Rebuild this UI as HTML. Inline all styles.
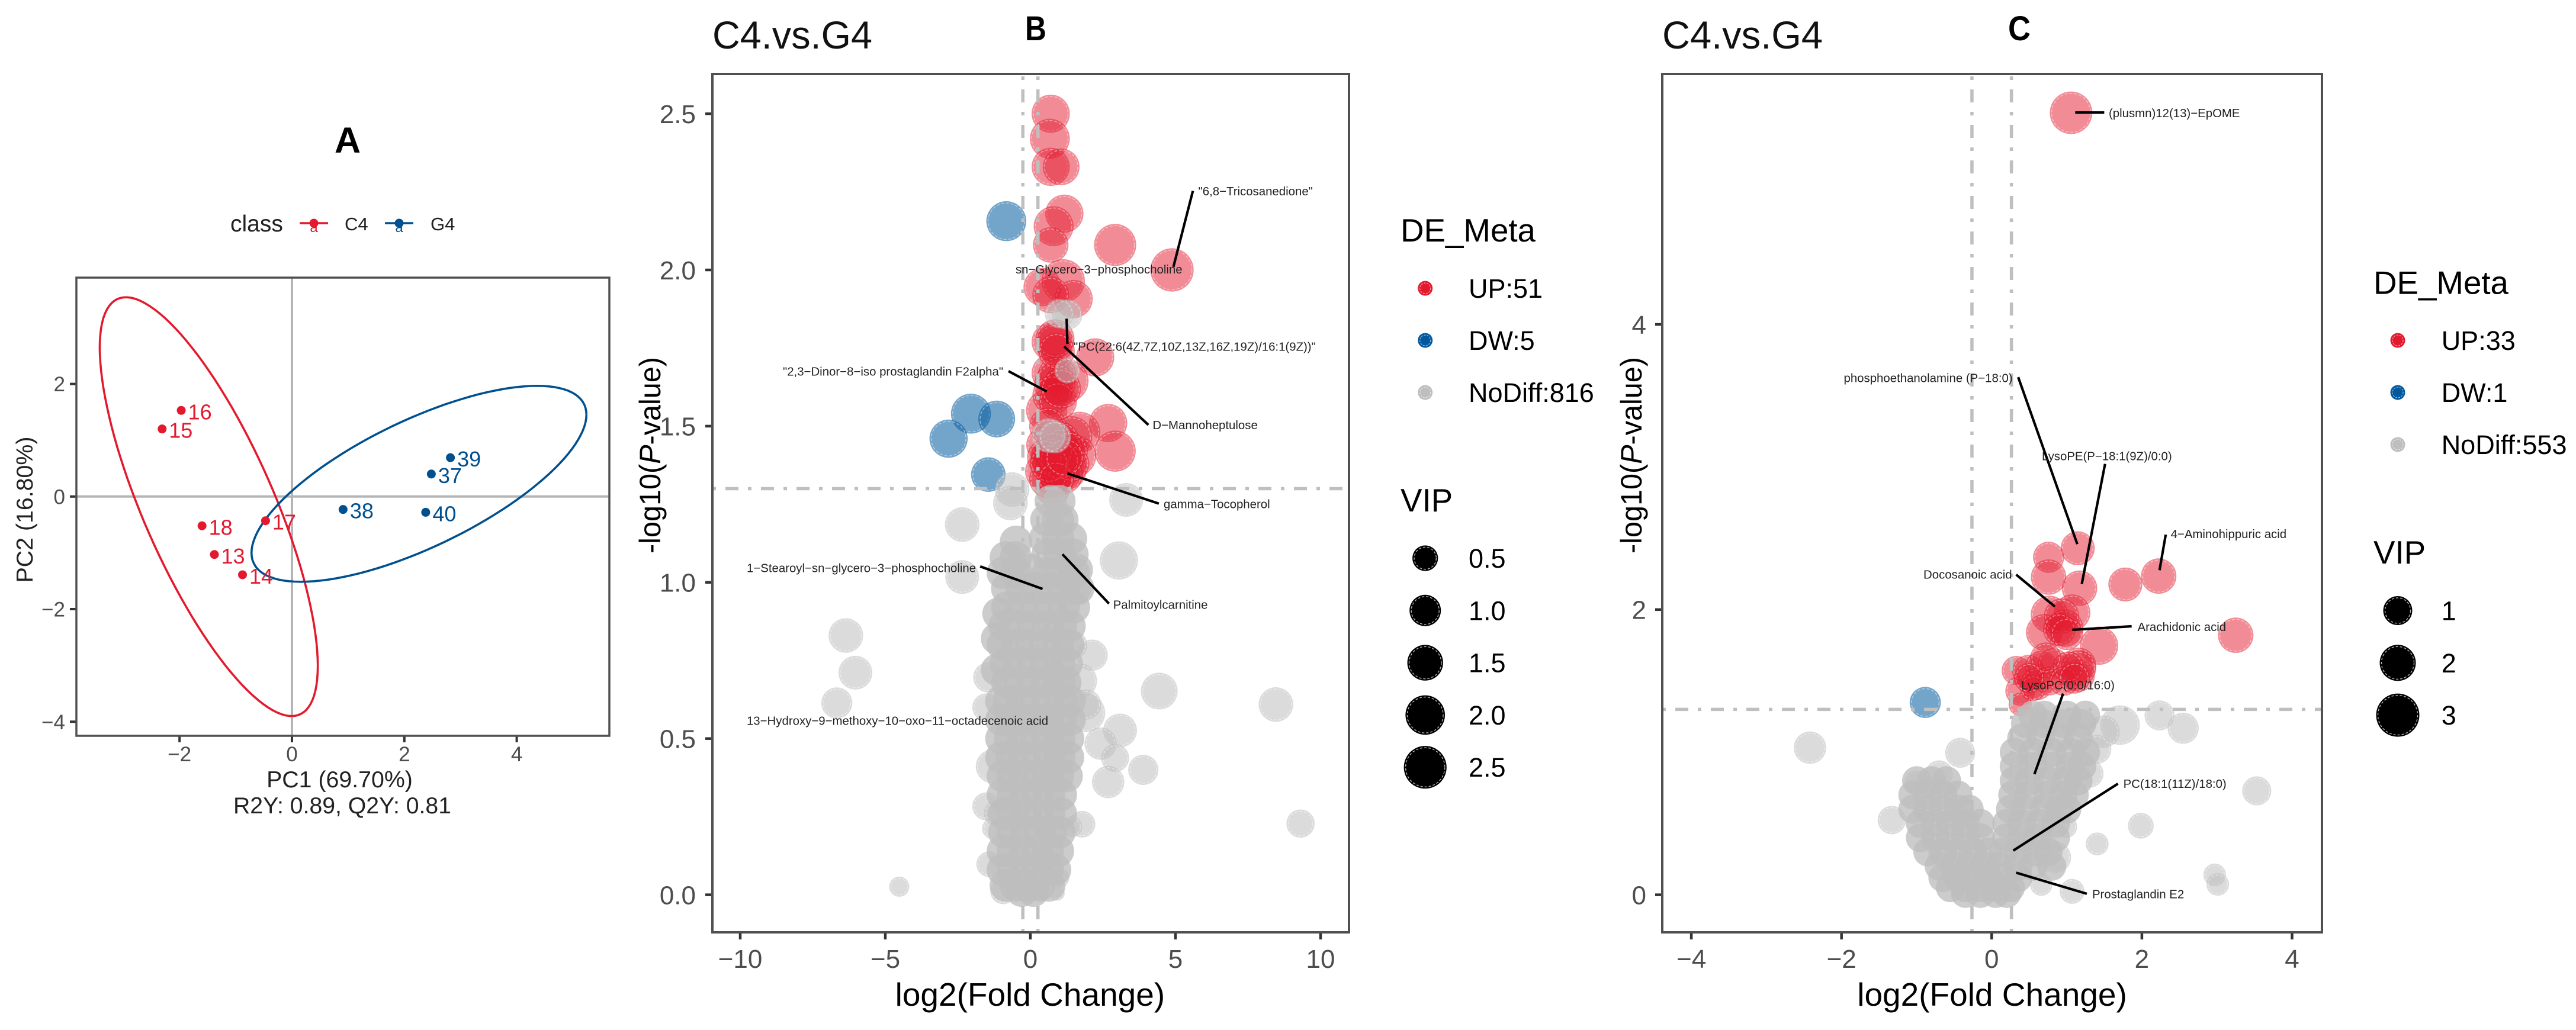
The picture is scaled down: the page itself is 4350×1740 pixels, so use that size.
<!DOCTYPE html>
<html lang="en">
<head>
<meta charset="utf-8">
<title>PCA and volcano plots C4.vs.G4</title>
<style>
html,body{margin:0;padding:0;background:#fff;}
svg{display:block;font-family:"Liberation Sans",sans-serif;}
</style>
</head>
<body>
<svg id="figure" width="4350" height="1740" viewBox="0 0 4350 1740" xmlns="http://www.w3.org/2000/svg">
<rect width="4350" height="1740" fill="#fff"/>
</svg>
<script>
// ---------- Panel A data ----------
const pcaSamples = ['16','15','18','13','14','17','38','40','37','39'];
const pcaPc1 = [-1.97,-2.31,-1.60,-1.38,-0.88,-0.47,0.91,2.38,2.48,2.82];
const pcaPc2 = [1.53,1.20,-0.52,-1.03,-1.39,-0.43,-0.23,-0.28,0.40,0.69];
const pcaClass = ['C4','C4','C4','C4','C4','C4','G4','G4','G4','G4'];
const pcaEllipseClass = ['C4','G4'];
const pcaEllipseCentreX = [-1.48,2.26];
const pcaEllipseCentreY = [-0.18,0.226];
const pcaEllipseHalfWidth = [1.94,2.98];
const pcaEllipseHalfHeight = [3.72,1.74];
const pcaEllipseCorr = [-0.76,0.705];
const pcaXTicks = [-2,0,2,4];
const pcaYTicks = [-4,-2,0,2];

// ---------- Panel B data: [log2FC, -log10P, VIP] ----------
const bXTicks = [-10,-5,0,5,10];
const bYTicks = [0,0.5,1,1.5,2,2.5];
const bThresholdP = 1.3;
const bThresholdFc = 0.26;
const bLegendLabels = ['UP:51','DW:5','NoDiff:816'];
const bVipLegend = [0.5,1,1.5,2,2.5];
const bUp = [
[.70,2.50,1.82],[.67,2.42,2.07],[.70,2.33,1.82],[1.06,2.33,1.63],[1.17,2.18,1.82],[.80,2.14,2.07],[.70,2.08,1.47],
[2.92,2.08,2.4],[4.88,2.00,2.6],[.42,1.945,1.82],[1.13,1.965,2.6],[1.49,1.907,1.82],[.70,1.92,1.63],[.70,1.77,1.82],
[.84,1.765,1.82],[2.23,1.72,1.82],[.70,1.67,1.82],[1.27,1.645,2.48],[.92,1.66,1.94],[.84,1.635,2.26],[.56,1.55,2.26],
[2.68,1.51,1.82],[2.92,1.42,2.26],[1.70,1.48,2.26],[1.42,1.466,2.26],[.49,1.44,1.63],[.99,1.45,2.26],[1.56,1.405,2.26],
[1.27,1.36,1.94],[.49,1.355,1.94],[.84,1.37,1.94],[.77,1.30,1.35],[1.13,1.345,1.94],[.85,1.78,1.9],[.9,1.74,1.6],
[.75,1.6,2.0],[.95,1.58,1.8],[.6,1.5,1.7],[1.1,1.43,2.0],[1.3,1.42,2.0],[.7,1.4,2.0],[.95,1.35,1.9],[.6,1.33,1.7],
[1.4,1.38,1.6],[.8,1.42,1.9],[1.0,1.39,2.0],[.5,1.4,1.5],[.65,1.38,1.9],[.88,1.33,1.5],[1.18,1.40,1.9],[1.05,1.62,2.1]
];
const bDown = [[-.83,2.156,2.07],[-2.05,1.54,2.07],[-1.16,1.523,1.63],[-2.82,1.46,1.82],[-1.45,1.345,1.35]];
const bNoDiffOutliers = [
[1.27,1.857,.9],[1.0,1.86,.8],[1.27,1.678,.5],[.63,1.47,1.35],[.84,1.465,1.1],[-.63,1.297,1.35],[-.69,1.254,1.35],
[3.3,1.264,1.26],[-2.35,1.185,1.35],[3.05,1.07,1.82],[-2.35,1.017,1.26],[-6.36,.83,1.35],[-6.03,.711,1.26],[-6.67,.614,.97],
[2.13,.767,.97],[4.44,.652,1.63],[8.46,.609,1.35],[9.31,.228,.7],[-4.52,.026,.18],[3.09,.526,1.26],[2.42,.484,1.1],
[2.92,.438,.68],[3.89,.40,.88],[2.68,.361,1.1],[1.78,.226,.57],[1.42,.218,.23],[1.92,.582,1.82],[1.70,.685,1.35],
[1.92,.609,.88],[.93,.005,.02],[.99,.054,.18],[-1.3,.411,1.26],[-1.52,.283,.68],[-1.16,.261,.5],[-1.3,.212,.23],
[-1.42,.098,.5],[-.94,.011,.5],[-1.45,.696,.88],[-1.52,.6,.68],[1.45,.80,.8]
];
const bNoDiffCore = [
[.7,1.26,1.1],[1.0,1.26,1.1],
[.55,1.2,1.1],[.95,1.2,1.1],[1.1,1.2,1.1],
[.5,1.14,1.1],[.95,1.14,1.1],[1.4,1.14,1.1],[-.5,1.13,1.1],
[-.85,1.08,1.1],[-.5,1.08,1.1],[.6,1.09,1.1],[1.0,1.09,1.1],[1.45,1.09,1.1],
[-.95,1.03,1.1],[-.5,1.03,1.1],[0,1.04,1.1],[.6,1.03,1.1],[1.05,1.03,1.1],[1.5,1.03,1.1],
[-.8,.98,1.1],[-.3,.98,1.1],[.2,.98,1.1],[.7,.98,1.1],[1.15,.98,1.1],[1.55,.98,1.1],
[-.8,.92,1.1],[-.3,.92,1.1],[.2,.92,1.1],[.7,.92,1.1],[1.15,.92,1.1],[1.5,.92,1.1],
[-.9,.86,1.1],[-.4,.86,1.1],[.1,.86,1.1],[.6,.86,1.1],[1.05,.86,1.1],[1.35,.86,1.1],
[-.95,.80,1.1],[-.45,.80,1.1],[.05,.80,1.1],[.5,.80,1.1],[.95,.80,1.1],[1.3,.80,1.1],
[-.85,.74,1.1],[-.4,.74,1.1],[.1,.74,1.1],[.55,.74,1.1],[1.0,.74,1.1],[1.25,.74,1.1],
[-.8,.68,1.1],[-.35,.68,1.1],[.1,.68,1.1],[.55,.68,1.1],[1.0,.68,1.1],[1.2,.68,1.1],
[-.75,.62,1.1],[-.3,.62,1.1],[.15,.62,1.1],[.6,.62,1.1],[1.05,.62,1.1],
[-.7,.56,1.1],[-.25,.56,1.1],[.2,.56,1.1],[.6,.56,1.1],[1.05,.56,1.1],
[-.7,.50,1.1],[-.25,.50,1.1],[.2,.50,1.1],[.6,.50,1.1],[1.0,.50,1.1],
[-.65,.44,1.1],[-.2,.44,1.1],[.25,.44,1.1],[.65,.44,1.1],[1.0,.44,1.1],
[-.6,.38,1.1],[-.2,.38,1.1],[.2,.38,1.1],[.6,.38,1.1],[.95,.38,1.1],
[-.6,.32,1.1],[-.15,.32,1.1],[.25,.32,1.1],[.65,.32,1.1],
[-.6,.26,1.1],[-.15,.26,1.1],[.25,.26,1.1],[.65,.26,1.1],
[-.6,.20,1.1],[-.15,.20,1.1],[.3,.20,1.1],[.7,.20,1.1],
[-.6,.14,1.1],[-.15,.14,1.1],[.25,.14,1.1],[.6,.14,1.1],
[-.6,.08,1.1],[-.15,.08,1.1],[.25,.08,1.1],[.6,.08,1.1],
[-.5,.03,1.1],[-.1,.03,1.1],[.3,.03,1.1],
[-.3,.013,1.1],[.1,.013,1.1],
[-1.0,.62,1.1],[-1.0,.56,1.1],[-1.0,.5,1.1],[-1.0,.44,1.1],[-.95,.38,1.1],[-.95,.32,1.1],[-.9,.26,1.1],[-.9,.2,1.1],[-.95,.14,1.1],[-.95,.08,1.1],[-.85,.03,1.1],
[1.35,.62,1.1],[1.35,.56,1.1],[1.3,.5,1.1],[1.3,.44,1.1],[1.25,.38,1.1],[1.05,.32,1.1],[1.05,.26,1.1],[1.0,.2,1.1],[.95,.14,1.1],[.85,.08,1.1],[.65,.03,1.1],
[-1.1,.9,1.1],[-1.15,.82,1.1],[-1.15,.72,1.1],[1.65,.98,1.1],[1.6,1.04,1.1]
];
const bLabelNames = ['"6,8\u2212Tricosanedione"','sn\u2212Glycero\u22123\u2212phosphocholine','"PC(22:6(4Z,7Z,10Z,13Z,16Z,19Z)/16:1(9Z))"','"2,3\u2212Dinor\u22128\u2212iso prostaglandin F2alpha"','D\u2212Mannoheptulose','gamma\u2212Tocopherol','1\u2212Stearoyl\u2212sn\u2212glycero\u22123\u2212phosphocholine','Palmitoylcarnitine','13\u2212Hydroxy\u22129\u2212methoxy\u221210\u2212oxo\u221211\u2212octadecenoic acid'];
const bLabelFc = [5.786,-.512,1.49,-8.531,4.212,4.592,-9.776,2.851,-9.776];
const bLabelP = [2.252,2.002,1.755,1.675,1.504,1.251,1.046,.929,.557];
const bLeaderFc1 = [5.60,1.247,1.163,-.755,1.276,-1.731,1.104];
const bLeaderP1 = [2.253,1.844,1.755,1.676,1.349,1.051,1.090];
const bLeaderFc2 = [4.929,1.276,4.067,.561,4.427,.418,2.708];
const bLeaderP2 = [2.010,1.763,1.504,1.611,1.252,.979,.932];

// ---------- Panel C data: [log2FC, -log10P, VIP] ----------
const cXTicks = [-4,-2,0,2,4];
const cYTicks = [0,2,4];
const cThresholdP = 1.3;
const cThresholdFc = 0.263;
const cLegendLabels = ['UP:33','DW:1','NoDiff:553'];
const cVipLegend = [1,2,3];
const cUp = [
[1.057,5.484,2.9],[1.145,2.43,1.7],[.758,2.367,1.3],[.758,2.228,1.9],[1.17,2.15,1.9],[1.78,2.176,1.7],[2.224,2.235,1.9],
[1.07,1.978,2.07],[.77,1.966,2.2],[.70,1.84,2.07],[.97,1.87,2.2],[1.43,1.747,2.3],[.93,1.954,1.9],[1.156,1.609,1.9],
[1.156,1.537,1.5],[.326,1.573,1.0],[.49,1.568,1.5],[.66,1.597,1.5],[.82,1.62,1.3],[1.156,1.59,1.9],[.38,1.43,1.1],
[.6,1.478,1.5],[.77,1.50,1.0],[.96,1.50,1.1],[1.02,1.597,1.3],[.38,1.335,.2],[.55,1.45,.6],[1.1,1.52,1.3],[.72,1.66,1.3],
[.9,1.86,1.5],[1.0,1.83,1.5],[3.25,1.82,1.9],[.5,1.52,1.2]
];
const cDown = [[-.885,1.349,1.3]];
const cNoDiffOutliers = [
[-2.42,1.032,1.48],[-.42,.996,1.13],[2.235,1.258,1.13],[2.55,1.168,1.3],[1.71,1.19,2.47],[1.49,1.144,1.48],
[-1.33,.524,.9],[1.986,.484,.54],[1.405,.357,.13],[1.07,.024,.42],[.85,.262,1.3],[.99,.477,.05],[.66,.071,.05],
[2.97,.14,.1],[3.01,.073,.1],[3.53,.729,1.0],[-.7,.846,.8],[-1.0,.786,.3],[1.3,.85,.9],[1.4,1.02,1.0]
];
const cNoDiffCore = [
[.55,1.26,1],[.7,1.26,1],[1.0,1.26,1],[1.25,1.26,1],
[.45,1.2,1],[.7,1.2,1],[.95,1.2,1],[1.2,1.2,1],
[.4,1.1,1],[.65,1.1,1],[.9,1.1,1],[1.15,1.1,1],
[.3,1.0,1],[.55,1.0,1],[.8,1.0,1],[1.05,1.0,1],[1.25,1.0,1],
[.3,.9,1],[.55,.9,1],[.8,.9,1],[1.05,.9,1],[1.2,.9,1],
[.3,.8,1],[.5,.8,1],[.75,.8,1],[1.0,.8,1],[1.15,.8,1],
[.28,.7,1],[.5,.7,1],[.75,.7,1],[.95,.7,1],[1.1,.7,1],
[.25,.6,1],[.45,.6,1],[.7,.6,1],[.9,.6,1],[1.0,.6,1],
[.2,.5,1],[.4,.5,1],[.65,.5,1],[.85,.5,1],
[.2,.4,1],[.4,.4,1],[.6,.4,1],[.85,.4,1],
[.15,.3,1],[.35,.3,1],[.6,.3,1],[.75,.3,1],
[.1,.2,1],[.35,.2,1],[.55,.2,1],[.8,.2,1],
[-1.0,.8,1],[-.8,.8,1],[-.6,.8,1],
[-1.05,.7,1],[-.85,.7,1],[-.65,.7,1],[-.45,.7,1],
[-1.05,.6,1],[-.85,.6,1],[-.65,.6,1],[-.45,.6,1],[-.3,.6,1],
[-.95,.5,1],[-.75,.5,1],[-.55,.5,1],[-.35,.5,1],[-.15,.5,1],
[-.95,.4,1],[-.75,.4,1],[-.55,.4,1],[-.35,.4,1],[-.15,.4,1],
[-.85,.3,1],[-.65,.3,1],[-.45,.3,1],[-.25,.3,1],[-.05,.3,1],
[-.7,.2,1],[-.5,.2,1],[-.3,.2,1],[-.1,.2,1],
[-.65,.12,1],[-.45,.12,1],[-.25,.12,1],[-.05,.12,1],[.15,.12,1],[.35,.12,1],
[-.55,.05,1],[-.35,.05,1],[-.15,.05,1],[.05,.05,1],[.25,.05,1],
[-.35,.01,1],[-.15,.01,1],[.05,.01,1],[.2,.01,1]
];
const cLabelNames = ['(plusmn)12(13)\u2212EpOME','phosphoethanolamine (P\u221218:0)','LysoPE(P\u221218:1(9Z)/0:0)','4\u2212Aminohippuric acid','Docosanoic acid','Arachidonic acid','LysoPC(0:0/16:0)','PC(18:1(11Z)/18:0)','Prostaglandin E2'];
const cLabelFc = [1.559,-1.97,.668,2.384,-.909,1.942,.392,1.753,1.338];
const cLabelP = [5.481,3.625,3.077,2.531,2.247,1.878,1.47,.779,.005];
const cLeaderFc1 = [1.112,.353,1.51,2.318,.326,1.864,.951,1.681,1.267];
const cLeaderP1 = [5.486,3.63,3.022,2.526,2.245,1.883,1.411,.779,.007];
const cLeaderFc2 = [1.499,1.14,1.2,2.235,.841,1.073,.569,.287,.326];
const cLeaderP2 = [5.486,2.459,2.18,2.276,2.021,1.858,.846,.31,.155];

// ---------- Helpers ----------
const RED = '#E31A2E', BLUE = '#00599F', GREY = '#BEBEBE';
const root = document.getElementById('figure');
function make(tag, attrs, text){
  const el = document.createElementNS('http://www.w3.org/2000/svg', tag);
  for (const k in attrs) el.setAttribute(k, attrs[k]);
  if (text !== undefined) el.textContent = text;
  root.appendChild(el);
  return el;
}
function label(name, attrs, text){
  const el = make('text', attrs, text);
  
  
  return el;
}
function fmtTick(v, digits){
  const s = v.toFixed(digits);
  return v < 0 ? '\u2212' + s.slice(1) : s;
}
function drawTicks(p){
  p.xTicks.forEach(v => {
    const t = make('line', {x1:p.x(v), x2:p.x(v), y1:p.bottom, y2:p.bottom + p.tickLen, stroke:'#333', 'stroke-width':p.tickW});
    
    
    label('x-tick-label', {x:p.x(v), y:p.xLabelY, 'text-anchor':'middle', 'font-size':p.tickFont, fill:'#4d4d4d'}, fmtTick(v, 0));
  });
  p.yTicks.forEach(v => {
    const t = make('line', {x1:p.left - p.tickLen, x2:p.left, y1:p.y(v), y2:p.y(v), stroke:'#333', 'stroke-width':p.tickW});
    
    
    label('y-tick-label', {x:p.yLabelX, y:p.y(v) + p.tickFont * .36, 'text-anchor':'end', 'font-size':p.tickFont, fill:'#4d4d4d'}, fmtTick(v, p.yDigits));
  });
}
function drawFrame(p){
  const r = make('rect', {x:p.left, y:p.top, width:p.right - p.left, height:p.bottom - p.top, fill:'none', stroke:'#505050', 'stroke-width':p.frameW});
  
  
}
function drawCircles(points, p, color, name, ring, opacity){
  points.forEach(d => {
    const rad = p.radius(d[2]);
    const c = make('circle', {cx:p.x(d[0]), cy:p.y(d[1]), r:rad, fill:color, 'fill-opacity':opacity});
    
    
    if (ring) {
      const o = make('circle', {cx:p.x(d[0]), cy:p.y(d[1]), r:Math.max(rad - 3, 1), fill:'none', stroke:'#fff', 'stroke-width':1.5, 'stroke-dasharray':'5 3', 'stroke-opacity':.45});
      
      
    }
  });
}
function drawThresholds(p, fc, logP){
  const dash = '6 16 22 16';
  [-fc, fc].forEach(v => {
    const l = make('line', {x1:p.x(v), x2:p.x(v), y1:p.bottom, y2:p.top, stroke:'#bfbfbf', 'stroke-width':5.5, 'stroke-dasharray':dash});
    
    
  });
  const h = make('line', {x1:p.left, x2:p.right, y1:p.y(logP), y2:p.y(logP), stroke:'#bfbfbf', 'stroke-width':5.5, 'stroke-dasharray':dash});
  
  
}
function drawAnnotations(p, names, lx, ly, fx1, fy1, fx2, fy2){
  fx1.forEach((v, i) => {
    const l = make('line', {x1:p.x(v), y1:p.y(fy1[i]), x2:p.x(fx2[i]), y2:p.y(fy2[i]), stroke:'#000', 'stroke-width':4.2});
    
    
  });
  names.forEach((n, i) => {
    label('metabolite-label', {x:p.x(lx[i]), y:p.y(ly[i]) + 7, 'font-size':20.4, fill:'#222'}, n);
  });
}
function drawYTitle(x, y, size, len){
  const t = make('text', {transform:'translate(' + x + ' ' + y + ') rotate(-90)', 'text-anchor':'middle', 'font-size':size, fill:'#000', textLength:len, lengthAdjust:'spacingAndGlyphs'});
  
  
  t.appendChild(document.createTextNode('-log10('));
  const i = document.createElementNS('http://www.w3.org/2000/svg', 'tspan');
  i.setAttribute('font-style', 'italic');
  i.textContent = 'P';
  t.appendChild(i);
  t.appendChild(document.createTextNode('-value)'));
}
function drawLegend(g, labels, vipValues, radius){
  label('legend-title', {x:g.titleX, y:g.titleY, 'font-size':g.titleFont, fill:'#000'}, 'DE_Meta');
  [RED, BLUE, GREY].forEach((col, i) => {
    const c = make('circle', {cx:g.dotX, cy:g.rowY + i * 88, r:12.5, fill:col});
    
    
    const o = make('circle', {cx:g.dotX, cy:g.rowY + i * 88, r:9, fill:'none', stroke:'#fff', 'stroke-width':1.2, 'stroke-dasharray':'3 2', 'stroke-opacity':.6});
    
    
    label('legend-entry', {x:g.textX, y:g.rowY + i * 88 + 16, 'font-size':g.textFont, fill:'#000'}, labels[i]);
  });
  label('size-legend-title', {x:g.titleX, y:g.vipTitleY, 'font-size':g.titleFont, fill:'#000'}, 'VIP');
  vipValues.forEach((v, i) => {
    const rad = radius(v), cy = g.vipRowY + i * 88.3;
    const c = make('circle', {cx:g.dotX, cy:cy, r:rad, fill:'#000'});
    
    
    const o = make('circle', {cx:g.dotX, cy:cy, r:rad - 3, fill:'none', stroke:'#fff', 'stroke-width':1.4, 'stroke-dasharray':'4 3', 'stroke-opacity':.7});
    
    
    label('size-legend-entry', {x:g.textX, y:cy + 16, 'font-size':g.textFont, fill:'#000'}, g.vipDigits ? v.toFixed(1) : String(v));
  });
}

// ---------- Panel A ----------
const pA = {left:129, right:1029, top:469, bottom:1243, tickLen:11, tickW:4, frameW:3.5, tickFont:35, xLabelY:1286, yLabelX:110, yDigits:0,
  xTicks:pcaXTicks, yTicks:pcaYTicks, x:v => 493 + 94.9 * v, y:v => 838.8 - 95.1 * v};
[['h', pA.left, pA.y(0), pA.right, pA.y(0)], ['v', pA.x(0), pA.top, pA.x(0), pA.bottom]].forEach(g => {
  const l = make('line', {x1:g[1], y1:g[2], x2:g[3], y2:g[4], stroke:'#b5b5b5', 'stroke-width':4});
  
  
});
pcaEllipseClass.forEach((cls, k) => {
  const pts = [];
  const rho = pcaEllipseCorr[k], s = Math.sqrt(1 - rho * rho);
  for (let a = 0; a <= 120; a++) {
    const t = a / 120 * 2 * Math.PI;
    pts.push(pA.x(pcaEllipseCentreX[k] + pcaEllipseHalfWidth[k] * Math.cos(t)).toFixed(1) + ',' +
             pA.y(pcaEllipseCentreY[k] + pcaEllipseHalfHeight[k] * (rho * Math.cos(t) + s * Math.sin(t))).toFixed(1));
  }
  const e = make('polyline', {points:pts.join(' '), fill:'none', stroke:cls === 'C4' ? RED : '#00508F', 'stroke-width':3.6});
  
  
});
pcaSamples.forEach((n, i) => {
  const col = pcaClass[i] === 'C4' ? RED : '#00508F';
  const c = make('circle', {cx:pA.x(pcaPc1[i]), cy:pA.y(pcaPc2[i]), r:7.5, fill:col});
  
  
  label('sample-label', {x:pA.x(pcaPc1[i]) + 11.5, y:pA.y(pcaPc2[i]) + 15, 'font-size':36, fill:col}, n);
});
drawTicks(pA);
drawFrame(pA);
label('panel-label-a', {x:587, y:258, 'text-anchor':'middle', 'font-size':61, 'font-weight':'bold', fill:'#000'}, 'A');
label('legend-title', {x:389, y:391, 'font-size':39, fill:'#222'}, 'class');
[['C4', RED, 506, 582], ['G4', '#00508F', 650, 727]].forEach(k => {
  const l = make('line', {x1:k[2], x2:k[2] + 48, y1:377, y2:377, stroke:k[1], 'stroke-width':3.6});
  
  
  const c = make('circle', {cx:k[2] + 24, cy:377, r:7.5, fill:k[1]});
  
  
  label('legend-key-letter', {x:k[2] + 24, y:392, 'text-anchor':'middle', 'font-size':24, fill:k[1]}, 'a');
  label('legend-entry', {x:k[3], y:389, 'font-size':31, fill:'#222'}, k[0]);
});
label('x-axis-title', {x:573.5, y:1330, 'text-anchor':'middle', 'font-size':39.3, fill:'#222'}, 'PC1 (69.70%)');
label('model-metrics', {x:578, y:1374, 'text-anchor':'middle', 'font-size':39.3, fill:'#222', textLength:368, lengthAdjust:'spacingAndGlyphs'}, 'R2Y: 0.89, Q2Y: 0.81');
label('y-axis-title', {transform:'translate(55 861) rotate(-90)', 'text-anchor':'middle', 'font-size':39.3, fill:'#222'}, 'PC2 (16.80%)');

// ---------- Panel B ----------
const pB = {left:1203, right:2278, top:125, bottom:1575, tickLen:12, tickW:4.5, frameW:4, tickFont:44, xLabelY:1635, yLabelX:1175, yDigits:1,
  xTicks:bXTicks, yTicks:bYTicks, x:v => 1740 + 49 * v, y:v => 1511.6 - 527.8 * v, radius:v => 10 + 16.5 * Math.sqrt(v)};
drawCircles(bUp, pB, RED, 'point-up', true, .5);
drawCircles(bDown, pB, BLUE, 'point-down', true, .55);
drawCircles(bNoDiffOutliers, pB, GREY, 'point-nodiff', true, .55);
drawCircles(bNoDiffCore, pB, GREY, 'point-nodiff', false, .78);
drawThresholds(pB, bThresholdFc, bThresholdP);
drawAnnotations(pB, bLabelNames, bLabelFc, bLabelP, bLeaderFc1, bLeaderP1, bLeaderFc2, bLeaderP2);
drawTicks(pB);
drawFrame(pB);
label('chart-title', {x:1203, y:82, 'font-size':66, fill:'#111', textLength:270, lengthAdjust:'spacingAndGlyphs'}, 'C4.vs.G4');
label('panel-label-b', {x:1731, y:68, 'font-size':58, 'font-weight':'bold', fill:'#000', textLength:36, lengthAdjust:'spacingAndGlyphs'}, 'B');
label('x-axis-title', {x:1739.4, y:1699, 'text-anchor':'middle', 'font-size':55, fill:'#000'}, 'log2(Fold Change)');
drawYTitle(1115, 769, 50, 332);
drawLegend({titleX:2365, titleY:408, titleFont:54.7, dotX:2406.7, textX:2480, textFont:45, rowY:487, vipTitleY:864, vipRowY:943, vipDigits:true}, bLegendLabels, bVipLegend, pB.radius);

// ---------- Panel C ----------
const pC = {left:2807, right:3921, top:125, bottom:1575, tickLen:12, tickW:4.5, frameW:4, tickFont:44, xLabelY:1635, yLabelX:2780, yDigits:0,
  xTicks:cXTicks, yTicks:cYTicks, x:v => 3363.3 + 126.8 * v, y:v => 1511.6 - 240.9 * v, radius:v => 18.5 + 6 * v};
drawCircles(cUp, pC, RED, 'point-up', true, .5);
drawCircles(cDown, pC, BLUE, 'point-down', true, .55);
drawCircles(cNoDiffOutliers, pC, GREY, 'point-nodiff', true, .55);
drawCircles(cNoDiffCore, pC, GREY, 'point-nodiff', false, .78);
drawThresholds(pC, cThresholdFc, cThresholdP);
drawAnnotations(pC, cLabelNames, cLabelFc, cLabelP, cLeaderFc1, cLeaderP1, cLeaderFc2, cLeaderP2);
drawTicks(pC);
drawFrame(pC);
label('chart-title', {x:2807, y:82, 'font-size':66, fill:'#111', textLength:271, lengthAdjust:'spacingAndGlyphs'}, 'C4.vs.G4');
label('panel-label-c', {x:3391, y:68, 'font-size':58, 'font-weight':'bold', fill:'#000', textLength:38, lengthAdjust:'spacingAndGlyphs'}, 'C');
label('x-axis-title', {x:3364, y:1699, 'text-anchor':'middle', 'font-size':55, fill:'#000'}, 'log2(Fold Change)');
drawYTitle(2772, 769, 50, 332);
drawLegend({titleX:4008, titleY:496.5, titleFont:54.7, dotX:4049, textX:4122.7, textFont:45, rowY:575, vipTitleY:952, vipRowY:1031.5, vipDigits:false}, cLegendLabels, cVipLegend, pC.radius);
</script>
</body>
</html>
